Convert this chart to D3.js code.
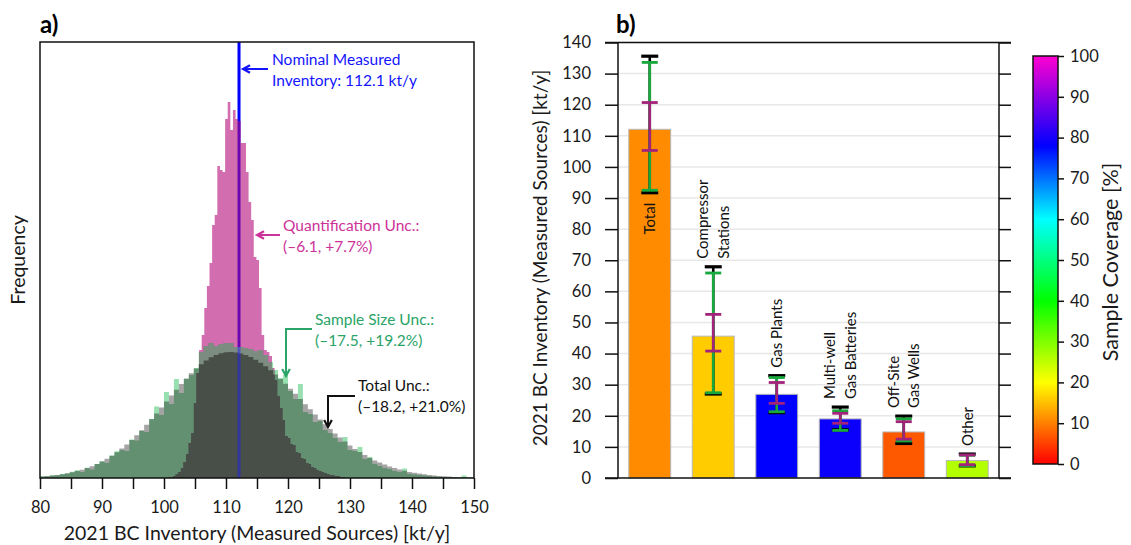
<!DOCTYPE html>
<meta charset="utf-8">
<style>
  body { margin: 0; background: #fff; }
  svg { font-family: Lato, "Open Sans", sans-serif; }
  .blend { mix-blend-mode: multiply; }
  .axis text { fill: #1a1a1a; }
</style>
<body>
<script src="https://d3js.org/d3.v7.min.js"></script>
<script>

// ---------- panel a: Monte Carlo histograms ----------
var binStart = 80.0, binWidth = 0.8;
// total uncertainty (grey)
var totalCounts = [16, 20, 25, 31, 38, 47, 57, 69, 83, 99, 118, 139, 164, 192, 222, 257, 294, 335, 380, 427,
  478, 532, 587, 645, 704, 764, 824, 883, 941, 996, 1048, 1095, 1138, 1176, 1207, 1231, 1248, 1258, 1260,
  1255, 1245, 1230, 1209, 1183, 1152, 1117, 1078, 1035, 990, 942, 892, 842, 790, 738, 687, 636, 586, 538,
  491, 446, 404, 364, 326, 291, 259, 229, 201, 176, 154, 134, 115, 99, 85, 72, 61, 52, 44, 37, 30, 25, 21,
  17, 14, 11, 9, 7, 6, 5];
// sample size uncertainty (green)
var sampleCounts = [18, 14, 28, 27, 40, 44, 62, 78, 60, 102, 85, 140, 168, 150, 225, 268, 280, 270, 385, 375,
  470, 460, 590, 715, 630, 860, 740, 990, 850, 990, 1030, 1100, 1260, 1320, 1350, 1320, 1340, 1350, 1350,
  1310, 1310, 1300, 1290, 1270, 1280, 1230, 1160, 1080, 1000, 1030, 870, 790, 940, 660, 640, 560, 570, 480,
  450, 400, 360, 410, 280, 270, 310, 190, 210, 140, 120, 100, 90, 70, 60, 95, 40, 35, 30, 24, 20, 16, 13,
  10, 9, 7, 6, 25, 4, 3];
// quantification uncertainty (pink)
var quantStart = 100.2, quantWidth = 0.42;
var quantCounts = [0, 10, 10, 20, 40, 60, 100, 160, 240, 350, 450, 750, 1050, 1280, 1430, 1700, 1920, 2150,
  2530, 2630, 3120, 3080, 3060, 3590, 3760, 3480, 3680, 3590, 3570, 3350, 3350, 3060, 2760, 2580, 2210, 2180,
  1900, 1430, 1280, 1260, 1220, 1100, 980, 820, 700, 580, 420, 400, 340, 330, 260, 250, 200, 190, 150, 140,
  110, 100, 80, 70, 60, 50, 40, 30, 30, 20, 20, 10, 10];
var nominal = 112.1;
var histTicks = [80, 85, 90, 95, 100, 105, 110, 115, 120, 125, 130, 135, 140, 145, 150];

// ---------- panel b: inventory by source ----------
var categoryLines = [["Total"], ["Compressor", "Stations"], ["Gas Plants"], ["Multi-well", "Gas Batteries"],
  ["Off-Site", "Gas Wells"], ["Other"]];
var inventory = [112.1, 45.6, 26.9, 19.0, 14.8, 5.6];
var coverage = [11, 16, 78, 79, 7, 26];
var totalLow = [91.7, 27.0, 21.0, 15.5, 11.1, 3.9];
var totalHigh = [135.6, 67.9, 32.9, 22.8, 19.9, 7.7];
var sampleLow = [92.5, 27.4, 21.3, 15.3, 11.9, 4.0];
var sampleHigh = [133.6, 65.9, 32.3, 21.6, 19.0, 7.3];
var quantLow = [105.3, 40.8, 24.0, 17.6, 12.5, 4.3];
var quantHigh = [120.7, 52.6, 30.7, 20.8, 18.1, 7.4];
var barTicks = [0, 10, 20, 30, 40, 50, 60, 70, 80, 90, 100, 110, 120, 130, 140];
var coverageTicks = [0, 10, 20, 30, 40, 50, 60, 70, 80, 90, 100];
var colorStops = [0, 20, 40, 60, 78, 100];
var colorStopColors = ["#ff0000", "#ffff00", "#00ff00", "#00ffff", "#0000ff", "#ff00d0"];

var svg = d3.select("body").append("svg").attr("width", 1131).attr("height", 545);
svg.append("rect").attr("width", 1131).attr("height", 545).attr("fill", "#fff");
var defs = svg.append("defs");

// ===== panel a =====
var ax = d3.scaleLinear().domain([80, 150]).range([40, 474]);
var ay = d3.scaleLinear().domain([0, 4360]).range([478, 42]);

defs.append("clipPath").attr("id", "clipA").append("rect")
  .attr("x", 40).attr("y", 42).attr("width", 434).attr("height", 436);

function histPath(start, width, counts) {
  var pts = counts.map(function (c, i) { return [start + i * width, c]; });
  pts.push([start + counts.length * width, counts[counts.length - 1]]);
  return d3.area()
    .x(function (d) { return ax(d[0]); })
    .y0(ay(0))
    .y1(function (d) { return ay(d[1]); })
    .curve(d3.curveStepAfter)(pts);
}
var pinkD = histPath(quantStart, quantWidth, quantCounts);
var grayD = histPath(binStart, binWidth, totalCounts);
var greenD = histPath(binStart, binWidth, sampleCounts);

defs.append("clipPath").attr("id", "clipPink").append("path").attr("d", pinkD);
var envClip = defs.append("clipPath").attr("id", "clipEnv");
envClip.append("path").attr("d", grayD);
envClip.append("path").attr("d", greenD);

var plotA = svg.append("g").attr("clip-path", "url(#clipA)");
plotA.append("rect").attr("x", 40).attr("y", 42).attr("width", 434).attr("height", 436).attr("fill", "#fff");
plotA.append("line")
  .attr("x1", ax(nominal)).attr("x2", ax(nominal)).attr("y1", 42).attr("y2", 478)
  .attr("stroke", "#0000ff").attr("stroke-width", 3);
plotA.append("path").attr("d", pinkD).attr("fill", "#b40d7a").attr("fill-opacity", 0.6);
plotA.append("path").attr("class", "blend").attr("d", grayD).attr("fill", "#a4a4a4");
plotA.append("path").attr("class", "blend").attr("d", greenD).attr("fill", "#98e0b0");

// where the pink histogram lies under the other two
var over = plotA.append("g").attr("clip-path", "url(#clipPink)").style("isolation", "isolate");
over.append("path").attr("d", grayD).attr("fill", "#938e8f");
over.append("path").attr("class", "blend").attr("d", greenD).attr("fill", "#7d8c80");
over.append("g").attr("clip-path", "url(#clipEnv)").append("line")
  .attr("x1", ax(nominal)).attr("x2", ax(nominal)).attr("y1", 42).attr("y2", 478)
  .attr("stroke", "#1a1aff").attr("stroke-opacity", 0.45).attr("stroke-width", 3);

svg.append("rect").attr("x", 40).attr("y", 42).attr("width", 434).attr("height", 436)
  .attr("fill", "none").attr("stroke", "#111").attr("stroke-width", 1.5);

var axA = svg.append("g").attr("class", "axis")
  .attr("transform", "translate(0,478)")
  .call(d3.axisBottom(ax).tickValues(histTicks).tickSize(11).tickPadding(12)
    .tickFormat(function (d) { return d % 10 === 0 ? d : ""; }));
axA.select(".domain").remove();
axA.selectAll("line").attr("stroke", "#111").attr("stroke-width", 1.5);
axA.selectAll("text").attr("font-size", 16.5).attr("font-family", "Lato");

svg.append("text").attr("x", 257).attr("y", 540).attr("text-anchor", "middle")
  .attr("font-size", 19.5).attr("fill", "#1a1a1a").text("2021 BC Inventory (Measured Sources) [kt/y]");
svg.append("text").attr("transform", "translate(25,260) rotate(-90)").attr("text-anchor", "middle")
  .attr("font-size", 19.5).attr("fill", "#1a1a1a").text("Frequency");
svg.append("text").attr("x", 40).attr("y", 33).attr("font-size", 24).attr("font-weight", "bold").text("a)");

// annotations with arrows
function arrow(points, color) {
  svg.append("path").attr("d", d3.line()(points)).attr("fill", "none")
    .attr("stroke", color).attr("stroke-width", 2);
  var p1 = points[points.length - 2], p2 = points[points.length - 1];
  var ang = Math.atan2(p2[1] - p1[1], p2[0] - p1[0]);
  var s = 8, sp = 0.5;
  var head = [
    [p2[0] - s * Math.cos(ang - sp), p2[1] - s * Math.sin(ang - sp)],
    p2,
    [p2[0] - s * Math.cos(ang + sp), p2[1] - s * Math.sin(ang + sp)]
  ];
  svg.append("path").attr("d", d3.line()(head)).attr("fill", "none")
    .attr("stroke", color).attr("stroke-width", 2.2).attr("stroke-linejoin", "miter");
}
function note(x, y, lines, color) {
  lines.forEach(function (l, i) {
    svg.append("text").attr("x", x).attr("y", y + i * 20.5).attr("font-size", 15.5)
      .attr("fill", color).text(l);
  });
}
note(272, 65, ["Nominal Measured", "Inventory: 112.1 kt/y"], "#1414ff");
arrow([[268, 69], [243, 69]], "#1414ff");
note(283, 231, ["Quantification Unc.:", "(\u2013" + "6.1, +7.7%)"], "#cc3399");
arrow([[280, 235], [257, 235]], "#cc3399");
note(315, 325, ["Sample Size Unc.:", "(\u2013" + "17.5, +19.2%)"], "#2aa468");
arrow([[312, 329], [286, 329], [286, 376]], "#2aa468");
note(358, 391, ["Total Unc.:", "(\u2013" + "18.2, +21.0%)"], "#111");
arrow([[355, 396], [328, 396], [328, 427]], "#111");

// ===== panel b =====
var bx = d3.scaleBand().domain(d3.range(inventory.length)).range([618, 999])
  .paddingInner(0.34).paddingOuter(0.17);
var by = d3.scaleLinear().domain([0, 140]).range([478, 42.5]);
var colorScale = d3.scaleLinear().domain(colorStops).range(colorStopColors).interpolate(d3.interpolateRgb);

var gb = svg.append("g");
gb.selectAll("line.grid").data(barTicks.slice(1)).join("line").attr("class", "grid")
  .attr("x1", 618).attr("x2", 999)
  .attr("y1", function (d) { return by(d); }).attr("y2", function (d) { return by(d); })
  .attr("stroke", "#e8e8e8").attr("stroke-width", 1.5);

gb.selectAll("rect.bar").data(inventory).join("rect").attr("class", "bar")
  .attr("x", function (d, i) { return bx(i); })
  .attr("width", bx.bandwidth())
  .attr("y", function (d) { return by(d); })
  .attr("height", function (d) { return by(0) - by(d); })
  .attr("fill", function (d, i) { return colorScale(coverage[i]); })
  .attr("stroke", "#b8b8b8").attr("stroke-width", 1);

var errSeries = [
  { low: totalLow, high: totalHigh, color: "#000", cap: 17, w: 3.2 },
  { low: sampleLow, high: sampleHigh, color: "#18a83c", cap: 16, w: 2.8 },
  { low: quantLow, high: quantHigh, color: "#a3237a", cap: 16, w: 2.8 }
];
errSeries.forEach(function (s) {
  inventory.forEach(function (v, i) {
    var cx = bx(i) + bx.bandwidth() / 2;
    gb.append("line").attr("x1", cx).attr("x2", cx).attr("y1", by(s.low[i])).attr("y2", by(s.high[i]))
      .attr("stroke", s.color).attr("stroke-width", 2.6);
    [s.low[i], s.high[i]].forEach(function (e) {
      gb.append("line").attr("x1", cx - s.cap / 2).attr("x2", cx + s.cap / 2)
        .attr("y1", by(e)).attr("y2", by(e)).attr("stroke", s.color).attr("stroke-width", s.w);
    });
  });
});

// category labels
categoryLines.forEach(function (lines, i) {
  var cx = bx(i) + bx.bandwidth() / 2;
  var inside = i === 0;
  var yPos = inside ? by(totalLow[i]) + 10 : by(totalHigh[i]) - 8;
  lines.forEach(function (l, j) {
    var lx = cx + (j - (lines.length - 1) / 2) * 20.5;
    gb.append("text")
      .attr("transform", "translate(" + lx + "," + yPos + ") rotate(-90)")
      .attr("dy", "0.35em")
      .attr("text-anchor", inside ? "end" : "start")
      .attr("font-size", 15).attr("fill", "#111").text(l);
  });
});

// axes of b
var axBL = gb.append("g").attr("class", "axis").attr("transform", "translate(618,0)")
  .call(d3.axisLeft(by).tickValues(barTicks).tickSize(13).tickPadding(14));
axBL.selectAll("line, path").attr("stroke", "#111").attr("stroke-width", 1.5);
axBL.select(".domain").attr("d", "M0,42.5V478");
axBL.selectAll("text").attr("font-size", 16.5).attr("font-family", "Lato");
var axBR = gb.append("g").attr("class", "axis").attr("transform", "translate(999,0)")
  .call(d3.axisRight(by).tickValues(barTicks).tickSize(12).tickFormat(""));
axBR.selectAll("line, path").attr("stroke", "#111").attr("stroke-width", 1.5);
axBR.select(".domain").attr("d", "M0,42.5V478");
[42.5, 478].forEach(function (yy) {
  gb.append("line").attr("x1", 605).attr("x2", 1011).attr("y1", yy).attr("y2", yy)
    .attr("stroke", "#111").attr("stroke-width", 1.5);
});

svg.append("text").attr("transform", "translate(547,258) rotate(-90)").attr("text-anchor", "middle")
  .attr("font-size", 19).attr("fill", "#1a1a1a").text("2021 BC Inventory (Measured Sources) [kt/y]");
svg.append("text").attr("x", 616).attr("y", 33).attr("font-size", 24).attr("font-weight", "bold").text("b)");

// colour bar
var cy = d3.scaleLinear().domain([0, 100]).range([464, 56]);
var grad = defs.append("linearGradient").attr("id", "covGrad")
  .attr("x1", 0).attr("y1", 1).attr("x2", 0).attr("y2", 0);
colorStops.forEach(function (v, i) {
  grad.append("stop").attr("offset", v / 100).attr("stop-color", colorStopColors[i]);
});
svg.append("rect").attr("x", 1033).attr("y", cy(100)).attr("width", 25).attr("height", cy(0) - cy(100))
  .attr("fill", "url(#covGrad)").attr("stroke", "#111").attr("stroke-width", 1.5);
var axC = svg.append("g").attr("class", "axis").attr("transform", "translate(1058,0)")
  .call(d3.axisRight(cy).tickValues(coverageTicks).tickSize(6).tickPadding(6));
axC.select(".domain").remove();
axC.selectAll("line").attr("stroke", "#111").attr("stroke-width", 1.5);
axC.selectAll("text").attr("font-size", 16.5).attr("font-family", "Lato");
svg.append("text").attr("transform", "translate(1118,262) rotate(-90)").attr("text-anchor", "middle")
  .attr("font-size", 21.5).attr("fill", "#1a1a1a").text("Sample Coverage [%]");

</script>
</body>
